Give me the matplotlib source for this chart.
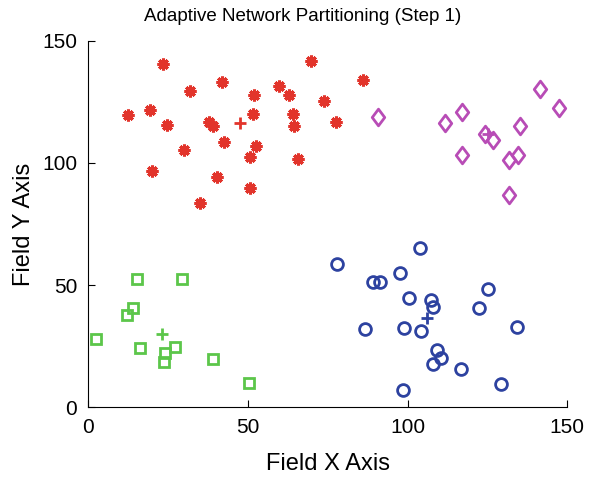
import numpy as np
import matplotlib
matplotlib.use("Agg")
import matplotlib.pyplot as plt
from matplotlib.path import Path

plt.rcParams['font.family'] = ['Liberation Sans', 'DejaVu Sans']

# cluster 1 (red stars)
red_x = [23.3, 69.6, 86.0, 42.0, 31.9, 59.6, 51.8, 62.9, 73.7, 12.4, 19.2, 24.7, 37.7, 39.0,
         51.6, 64.0, 64.3, 77.5, 42.4, 52.4, 30.1, 50.5, 65.8, 19.9, 40.3, 50.7, 35.0]
red_y = [140.4, 141.5, 133.9, 132.9, 129.4, 131.6, 127.8, 127.8, 125.3, 119.4, 121.7, 115.3, 116.9, 115.1,
         120.0, 119.9, 115.0, 116.8, 108.6, 106.8, 105.1, 102.2, 101.5, 96.6, 94.4, 89.7, 83.6]
red_c = (47.4, 116.2)

# cluster 2 (magenta diamonds)
mag_x = [90.6, 117.1, 111.8, 141.4, 147.5, 135.3, 124.2, 126.6, 117.0, 131.8, 134.6, 131.7]
mag_y = [118.8, 120.9, 116.1, 130.1, 122.5, 115.0, 111.7, 109.3, 103.1, 101.2, 103.3, 86.9]
mag_c = (125.3, 112.0)

# cluster 3 (green squares)
grn_x = [15.3, 29.3, 13.9, 12.1, 2.5, 16.1, 27.2, 23.9, 23.8, 39.0, 50.4]
grn_y = [52.3, 52.6, 40.5, 37.7, 27.8, 24.2, 24.8, 22.2, 18.5, 19.9, 9.9]
grn_c = (23.0, 30.0)

# cluster 4 (blue circles)
blu_x = [103.8, 77.8, 97.7, 89.3, 91.3, 125.2, 100.4, 107.2, 108.0, 122.4, 86.8, 99.0, 104.3,
         134.2, 109.3, 110.5, 107.8, 116.8, 129.2, 98.6]
blu_y = [65.1, 58.6, 54.9, 51.4, 51.4, 48.4, 44.6, 44.0, 41.1, 40.7, 31.9, 32.5, 31.2,
         32.7, 23.4, 20.2, 17.6, 15.7, 9.5, 7.2]
blu_c = (106.0, 36.4)

red = '#e2342b'
mag = '#b84cb6'
grn = '#5cc64a'
blu = '#2d42a0'

diamond = Path([(0, 1), (0.75, 0), (0, -1), (-0.75, 0), (0, 1)],
               [Path.MOVETO, Path.LINETO, Path.LINETO, Path.LINETO, Path.CLOSEPOLY])

fig = plt.figure(figsize=(5.9, 4.78), dpi=100)
ax = fig.add_axes([0.1497, 0.148, 0.8118, 0.767])

ax.plot(red_x, red_y, ls='none', marker=(8, 2, 0), ms=8.5, mew=2.2, color=red)
ax.plot(*red_c, marker='+', ms=9, mew=2, color=red)
ax.plot(mag_x, mag_y, ls='none', marker=diamond, ms=12, mew=2, mfc='none', mec=mag)
ax.plot(*mag_c, marker='+', ms=9, mew=2, color=mag)
ax.plot(grn_x, grn_y, ls='none', marker='s', ms=7, mew=2, mfc='none', mec=grn)
ax.plot(*grn_c, marker='+', ms=9, mew=2, color=grn)
ax.plot(blu_x, blu_y, ls='none', marker='o', ms=8.5, mew=2, mfc='none', mec=blu)
ax.plot(*blu_c, marker='+', ms=9, mew=2, color=blu)

ax.set_xlim(0, 150)
ax.set_ylim(0, 150)
ax.set_xticks([0, 50, 100, 150])
ax.set_yticks([0, 50, 100, 150])
ax.spines['top'].set_visible(False)
ax.spines['right'].set_visible(False)
ax.tick_params(direction='in', length=5, labelsize=15, pad=8)
ax.set_xlabel('Field X Axis', fontsize=17, labelpad=11)
ax.set_ylabel('Field Y Axis', fontsize=17, labelpad=5)
ax.set_title('Adaptive Network Partitioning (Step 1)', fontsize=13.5, x=0.447, pad=14)

fig.savefig('out.png', dpi=100)
